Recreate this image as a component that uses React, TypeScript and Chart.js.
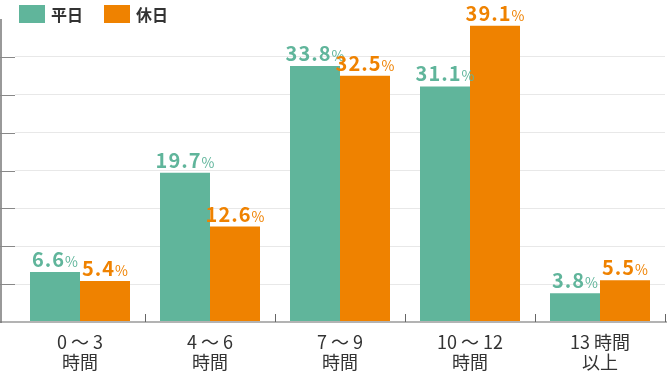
import React, { useEffect, useRef } from "react";
import { Chart, registerables } from "chart.js";

Chart.register(...registerables);

const categories: string[][] = [
  ["0 ～ 3", "時間"],
  ["4 ～ 6", "時間"],
  ["7 ～ 9", "時間"],
  ["10 ～ 12", "時間"],
  ["13 時間", "以上"],
];
const seriesNames = ["平日", "休日"];
const weekdayValues = [6.6, 19.7, 33.8, 31.1, 3.8];
const holidayValues = [5.4, 12.6, 32.5, 39.1, 5.5];
const colors = ["#60b59b", "#ef8200"];
const yMax = 40;
const yStep = 5;

const FONT = '"Noto Sans CJK JP", "Noto Sans", sans-serif';

const decorPlugin = {
  id: "decor",
  afterDraw(chart: any) {
    const ctx = chart.ctx as CanvasRenderingContext2D;
    const area = chart.chartArea;
    const xs = chart.scales.x;
    const ys = chart.scales.y;
    ctx.save();

    // bottom baseline
    ctx.strokeStyle = "#b3b3b3";
    ctx.lineWidth = 2;
    ctx.beginPath();
    ctx.moveTo(0, area.bottom);
    ctx.lineTo(chart.width, area.bottom);
    ctx.stroke();

    // left axis line
    ctx.strokeStyle = "#777";
    ctx.lineWidth = 1.5;
    ctx.beginPath();
    ctx.moveTo(1, ys.getPixelForValue(yMax));
    ctx.lineTo(1, area.bottom + 1);
    ctx.stroke();

    // left ticks
    ctx.lineWidth = 1;
    ctx.strokeStyle = "#888";
    for (let v = yStep; v < yMax; v += yStep) {
      const y = Math.round(ys.getPixelForValue(v)) + 0.5;
      ctx.beginPath();
      ctx.moveTo(0, y);
      ctx.lineTo(area.left, y);
      ctx.stroke();
    }

    // x ticks at category boundaries (inward)
    ctx.strokeStyle = "#666";
    const n = categories.length;
    for (let i = 1; i <= n; i++) {
      const c0 = xs.getPixelForValue(i - 1);
      const c1 = i < n ? xs.getPixelForValue(i) : c0 + (c0 - xs.getPixelForValue(i - 2));
      const x = Math.round((c0 + c1) / 2) + 0.5;
      ctx.beginPath();
      ctx.moveTo(x, area.bottom - 8);
      ctx.lineTo(x, area.bottom);
      ctx.stroke();
    }

    // x labels
    ctx.fillStyle = "#333";
    ctx.font = `18px ${FONT}`;
    ctx.textAlign = "center";
    ctx.textBaseline = "middle";
    categories.forEach((lines, i) => {
      const x = xs.getPixelForValue(i);
      lines.forEach((t, j) => {
        ctx.fillText(t, x, area.bottom + 20 + j * 20);
      });
    });

    // data labels
    const anyCtx = ctx as any;
    chart.data.datasets.forEach((ds: any, di: number) => {
      const meta = chart.getDatasetMeta(di);
      meta.data.forEach((bar: any, i: number) => {
        const num = ds.data[i].toFixed(1);
        anyCtx.letterSpacing = "1px";
        ctx.font = `bold 20px ${FONT}`;
        const w1 = ctx.measureText(num).width;
        anyCtx.letterSpacing = "0px";
        ctx.font = `14px ${FONT}`;
        const w2 = ctx.measureText("%").width;
        const start = bar.x - (w1 + w2) / 2;
        const base = bar.y - 5;
        ctx.fillStyle = colors[di];
        ctx.textAlign = "left";
        ctx.textBaseline = "alphabetic";
        anyCtx.letterSpacing = "1px";
        ctx.font = `bold 20px ${FONT}`;
        ctx.fillText(num, start, base);
        anyCtx.letterSpacing = "0px";
        ctx.font = `14px ${FONT}`;
        ctx.fillText("%", start + w1, base);
      });
    });

    // legend
    ctx.textAlign = "left";
    ctx.textBaseline = "middle";
    ctx.font = `bold 16px ${FONT}`;
    let lx = 19;
    seriesNames.forEach((name, i) => {
      ctx.fillStyle = colors[i];
      ctx.fillRect(lx, 5, 26, 18);
      ctx.fillStyle = "#333";
      ctx.fillText(name, lx + 32, 14.5);
      lx += 85;
    });

    ctx.restore();
  },
};

export default function App() {
  const ref = useRef<HTMLCanvasElement>(null);
  useEffect(() => {
    if (!ref.current) return;
    const chart = new Chart(ref.current, {
      type: "bar",
      data: {
        labels: categories.map((c) => c.join(" ")),
        datasets: [
          {
            label: seriesNames[0],
            data: weekdayValues,
            backgroundColor: colors[0],
            categoryPercentage: 100 / 130,
            barPercentage: 1,
          },
          {
            label: seriesNames[1],
            data: holidayValues,
            backgroundColor: colors[1],
            categoryPercentage: 100 / 130,
            barPercentage: 1,
          },
        ],
      },
      options: {
        animation: false,
        responsive: false,
        layout: { padding: { left: 15, right: 2, top: 19, bottom: 49 } },
        plugins: { legend: { display: false }, tooltip: { enabled: false } },
        scales: {
          x: { display: false },
          y: {
            min: 0,
            max: yMax,
            ticks: { display: false, stepSize: yStep },
            border: { display: false },
            grid: {
              drawTicks: false,
              color: (c: any) =>
                c.tick && (c.tick.value === 0 || c.tick.value === yMax) ? "rgba(0,0,0,0)" : "#e8e8e8",
            },
          },
        },
      },
      plugins: [decorPlugin],
    });
    return () => chart.destroy();
  }, []);
  return (
    <div style={{ position: "fixed", left: 0, top: 0, width: 667, height: 371, background: "#fff" }}>
      <canvas ref={ref} width={667} height={371} />
    </div>
  );
}
